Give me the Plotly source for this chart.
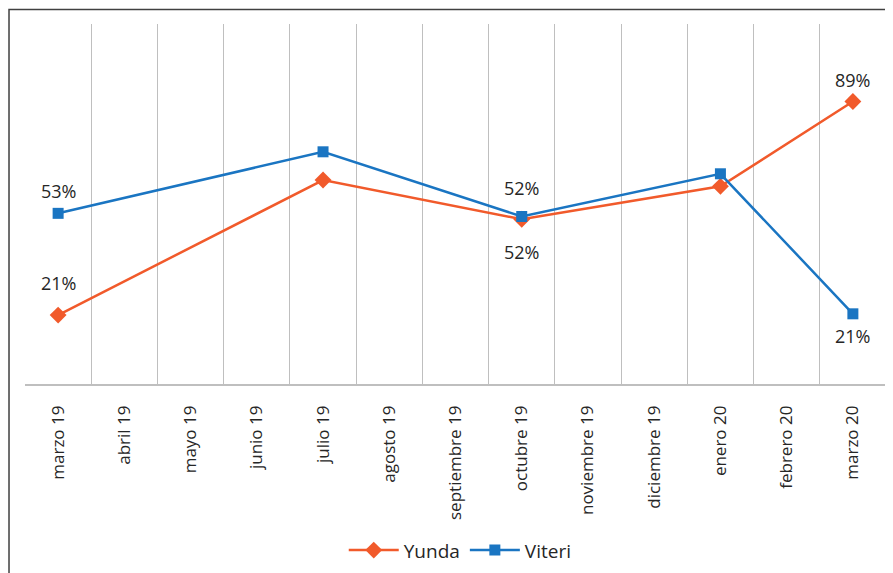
import plotly.graph_objects as go

categories = ["marzo 19", "abril 19", "mayo 19", "junio 19", "julio 19", "agosto 19",
              "septiembre 19", "octubre 19", "noviembre 19", "diciembre 19",
              "enero 20", "febrero 20", "marzo 20"]
yunda = [0.21, None, None, None, 0.64, None, None, 0.515, None, None, 0.62, None, 0.89]
viteri = [0.534, None, None, None, 0.73, None, None, 0.524, None, None, 0.66, None, 0.214]

# points that carry a data label: (index, vertical shift in px)
yunda_labels = [(0, 32), (7, -33), (12, 22)]
viteri_labels = [(0, 22), (7, 28), (12, -22)]

ORANGE = "#F15A2B"
BLUE = "#1A75C2"
FONT = "Open Sans, Noto Sans, sans-serif"
TXT = "#262626"

OFF = 8  # page body margin
W, H = 893, 573
ML, MR, MT, MB = 24.5 - OFF, 15, 24 - OFF, 573 - (384.5 - OFF)
PW = W - ML - MR
PH = H - MT - MB

fig = go.Figure()
fig.add_trace(go.Scatter(
    x=categories, y=yunda, name="Yunda", mode="lines+markers", connectgaps=True,
    line=dict(color=ORANGE, width=2.5),
    marker=dict(symbol="diamond", size=13, color=ORANGE)))
fig.add_trace(go.Scatter(
    x=categories, y=viteri, name="Viteri", mode="lines+markers", connectgaps=True,
    line=dict(color=BLUE, width=2.5),
    marker=dict(symbol="square", size=11, color=BLUE)))

annotations = []
for series, labels in ((yunda, yunda_labels), (viteri, viteri_labels)):
    for i, shift in labels:
        annotations.append(dict(
            x=categories[i], y=series[i], xref="x", yref="y",
            text=f"{series[i]*100:.0f}%", showarrow=False, yshift=shift,
            font=dict(family=FONT, size=18, color=TXT)))


def px_to_paper_x(px):
    return (px - OFF - ML) / PW


def px_to_paper_y(py):
    return (H - MB - (py - OFF)) / PH


shapes = [dict(type="rect", xref="paper", yref="paper",
               x0=px_to_paper_x(8.5), x1=px_to_paper_x(W + 20),
               y0=px_to_paper_y(H + 20), y1=px_to_paper_y(9.5),
               line=dict(color="#404040", width=1.5), fillcolor="rgba(0,0,0,0)", layer="below")]

fig.update_layout(
    width=W, height=H,
    margin=dict(l=ML, r=MR, t=MT, b=MB, autoexpand=False),
    paper_bgcolor="white", plot_bgcolor="white",
    font=dict(family=FONT, color=TXT),
    showlegend=True,
    legend=dict(orientation="h", x=px_to_paper_x(460), xanchor="center",
                y=px_to_paper_y(551), yanchor="middle",
                font=dict(family=FONT, size=19, color=TXT), itemwidth=50, tracegroupgap=0),
    annotations=annotations,
    shapes=shapes,
)
fig.update_xaxes(
    type="category", range=[-0.5, len(categories) - 0.5],
    tickson="boundaries", showgrid=True, gridcolor="#BFBFBF", gridwidth=1,
    showline=True, linecolor="#BFBFBF", linewidth=1.5, mirror=False,
    ticks="", tickangle=-90, ticklabelstandoff=13,
    tickfont=dict(family=FONT, size=17, color=TXT),
    zeroline=False)
fig.update_yaxes(range=[-0.0095, 1.137], visible=False, showgrid=False, zeroline=False)

fig.write_html("out.html")
